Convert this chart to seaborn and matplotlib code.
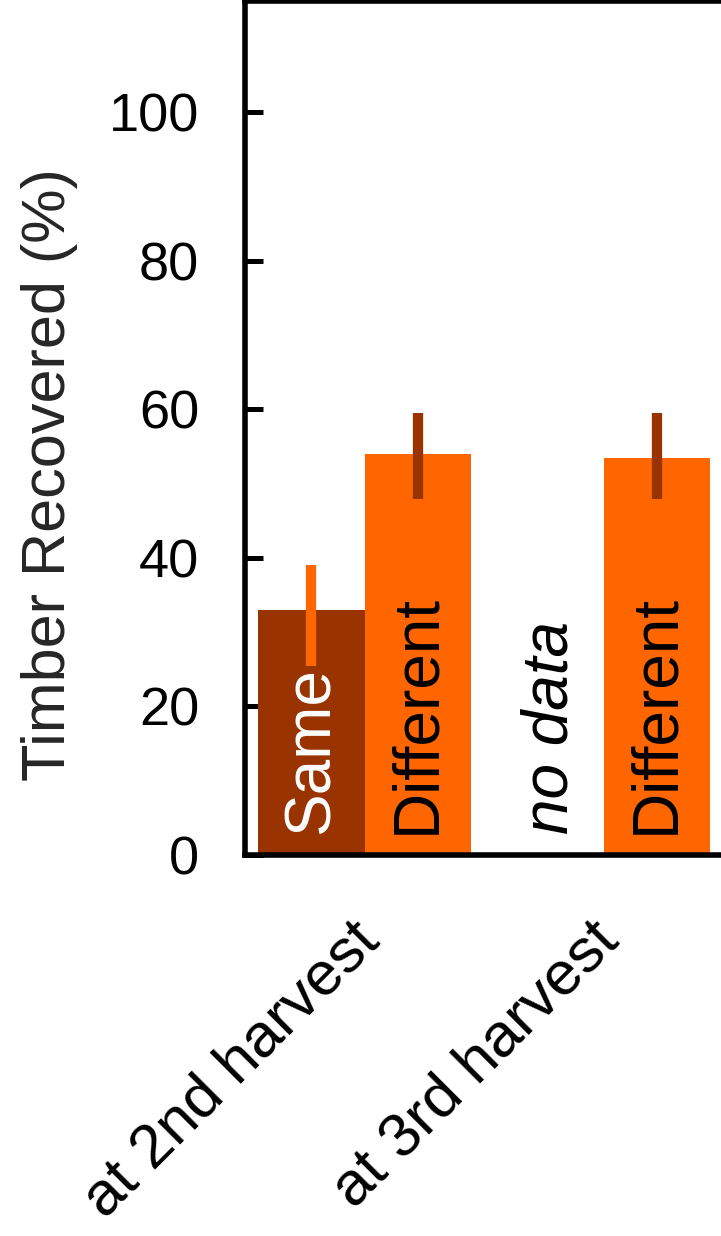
import matplotlib

matplotlib.use("Agg")
import matplotlib.pyplot as plt
import matplotlib.transforms as mtransforms
import numpy as np
import pandas as pd
import seaborn as sns

# values
harvest = ["at 2nd harvest", "at 2nd harvest", "at 3rd harvest", "at 3rd harvest"]
species = ["Same", "Different", "Same", "Different"]
recovered = [33.0, 54.0, np.nan, 53.5]
err_low = [7.5, 6.0, np.nan, 5.5]
err_high = [6.1, 5.5, np.nan, 6.0]

harvest_order = ["at 2nd harvest", "at 3rd harvest"]
species_order = ["Same", "Different"]
yticks = [0, 20, 40, 60, 80, 100]

bar_colors = {"Same": "#993300", "Different": "#FF6600"}
err_colors = {"Same": "#FF6600", "Different": "#993300"}
text_colors = {"Same": "white", "Different": "black"}

sns.set_style("white")
plt.rcParams["font.family"] = ["Liberation Sans", "DejaVu Sans"]

df = pd.DataFrame({
    "harvest": harvest,
    "species": species,
    "recovered": recovered,
    "err_low": err_low,
    "err_high": err_high,
})

fig = plt.figure(figsize=(7.21, 12.36), dpi=100)
ax = fig.add_axes([245 / 721, 381 / 1236, 478 / 721, 854 / 1236])

sns.barplot(
    data=df,
    x="harvest",
    y="recovered",
    hue="species",
    order=harvest_order,
    hue_order=species_order,
    palette=bar_colors,
    saturation=1,
    width=0.89,
    gap=0,
    errorbar=None,
    legend=False,
    linewidth=0,
    ax=ax,
)

# error bars and in-bar labels, placed at the centres seaborn used
slot_offset = {}
for container, level in zip(ax.containers, species_order):
    sub = df[(df["species"] == level) & df["recovered"].notna()]
    for bar in container:
        xc = bar.get_x() + bar.get_width() / 2
        idx = int(round(xc))
        slot_offset[level] = xc - idx
        row = sub[sub["harvest"] == harvest_order[idx]].iloc[0]
        ax.errorbar(
            xc, row["recovered"],
            yerr=[[row["err_low"]], [row["err_high"]]],
            fmt="none", ecolor=err_colors[level], elinewidth=7.4,
            capsize=0, zorder=3,
        )

for _, row in df.iterrows():
    idx = harvest_order.index(row["harvest"])
    xc = idx + slot_offset[row["species"]]
    if np.isnan(row["recovered"]):
        ax.text(xc, 2.8, "no data", rotation=90, ha="center", va="bottom",
                fontsize=46, style="italic", color="black", zorder=4)
    else:
        ax.text(xc, 2.8, row["species"], rotation=90, ha="center", va="bottom",
                fontsize=46, color=text_colors[row["species"]], zorder=4)

ax.set_xlim(-0.5, 1.5)
ax.set_ylim(0, 115)
ax.set_yticks(yticks)
ax.set_yticklabels([str(t) for t in yticks])
ax.set_xlabel("")
ax.set_ylabel("Timber Recovered (%)", fontsize=44)
ax.yaxis.set_label_coords(-0.35, 0.445)

for side in ["left", "bottom", "top"]:
    ax.spines[side].set_linewidth(4)
    ax.spines[side].set_color("black")
ax.spines["right"].set_visible(False)

ax.tick_params(axis="y", direction="in", length=13, width=3.6, pad=33,
               labelsize=39, colors="black", left=True)
ax.tick_params(axis="x", length=0, pad=55, labelsize=44.5, colors="black")

offset = mtransforms.ScaledTranslation(6 / 100, 0, fig.dpi_scale_trans)
for lab in ax.get_xticklabels():
    lab.set_rotation(45)
    lab.set_ha("right")
    lab.set_va("center")
    lab.set_rotation_mode("anchor")
    lab.set_transform(lab.get_transform() + offset)

fig.savefig("out.png", dpi=100)
